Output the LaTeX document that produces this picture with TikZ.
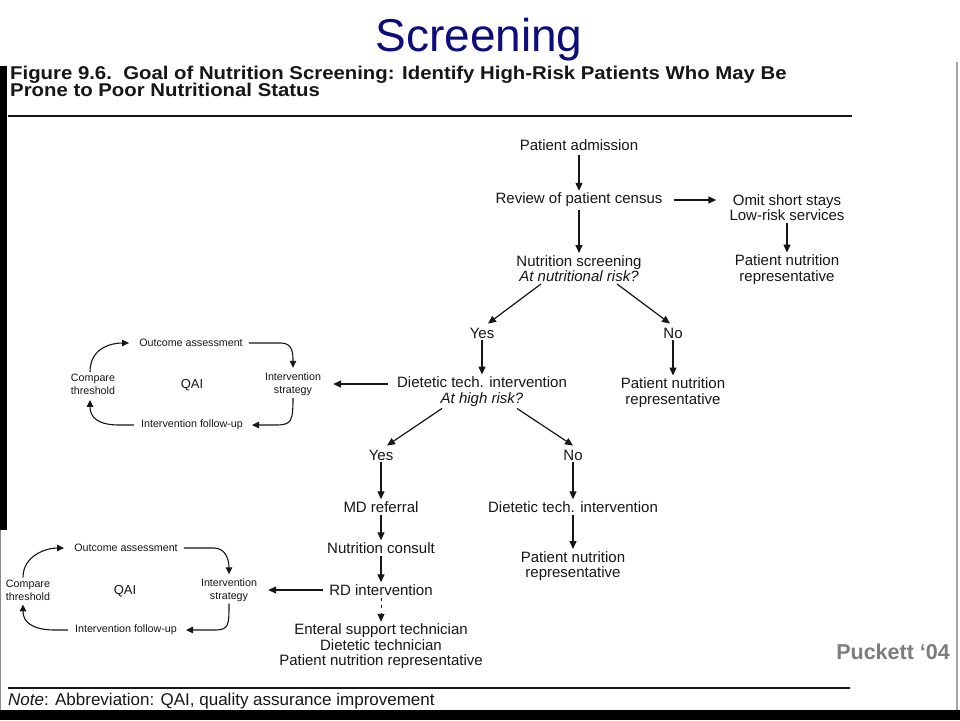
\documentclass[tikz,border=0pt]{standalone}
\usepackage{fontspec}
\setmainfont{Liberation Sans}
\usetikzlibrary{arrows.meta,calc}
\definecolor{navy}{RGB}{12,12,125}
\definecolor{pgray}{RGB}{125,125,125}
\definecolor{ink}{RGB}{22,22,22}
\tikzset{
 flow/.style={font=\fontsize{15}{15.5}\selectfont, align=center, inner sep=2pt, text=ink},
 smalltxt/.style={font=\fontsize{10.7}{13}\selectfont, align=center, inner sep=2pt, text=ink},
 qailab/.style={font=\fontsize{13}{13}\selectfont, inner sep=2pt, text=ink},
 arr/.style={draw=ink, line width=1.2pt, -{Triangle[length=8pt,width=7pt]}},
 cyc/.style={draw=ink, line width=1.1pt, -{Triangle[length=7pt,width=6.5pt]}},
 rulel/.style={draw=ink, line width=1.3pt},
}
\begin{document}
\begin{tikzpicture}[x=1pt,y=-1pt]
\path[use as bounding box, fill=white] (0,0) rectangle (960,720);

% title
\node[font=\fontsize{46}{46}\selectfont, text=navy, inner sep=0pt] (title) at (479,40) {Screening};

% heading
\node[anchor=base west, inner sep=0pt, text=ink] (head1) at (10,79) {\scalebox{1.1}[1]{\fontsize{18.5}{18.5}\selectfont\bfseries Figure 9.6.\ \ Goal of Nutrition Screening: Identify High-Risk Patients Who May Be}};
\node[anchor=base west, inner sep=0pt, text=ink] (head2) at (10,96) {\scalebox{1.1}[1]{\fontsize{18.5}{18.5}\selectfont\bfseries Prone to Poor Nutritional Status}};
\draw[rulel] (8,116) -- (852,116);

% main flow
\node[flow] (adm) at (579,145) {Patient admission};
\node[flow] (rev) at (579,200) {Review of patient census};
\node[flow] (omit) at (787,207.5) {Omit short stays\\Low-risk services};
\node[flow] (pnr1) at (787,269.5) {Patient nutrition\\representative};
\node[flow] (scr) at (579,268.5) {Nutrition screening\\\textit{At nutritional risk?}};
\node[flow] (yes1) at (482,333) {Yes};
\node[flow] (no1) at (673,333) {No};
\node[flow] (dt1) at (482,391.5) {Dietetic tech. intervention\\\textit{At high risk?}};
\node[flow] (pnr2) at (673,392.5) {Patient nutrition\\representative};
\node[flow] (yes2) at (381,455) {Yes};
\node[flow] (no2) at (573,455) {No};
\node[flow] (md) at (381,507) {MD referral};
\node[flow] (dt2) at (573,507) {Dietetic tech. intervention};
\node[flow] (nc) at (381,548) {Nutrition consult};
\node[flow] (pnr3) at (573,566) {Patient nutrition\\representative};
\node[flow] (rd) at (381,590) {RD intervention};
\node[flow] (ent) at (381,646.5) {Enteral support technician\\Dietetic technician\\Patient nutrition representative};

% QAI cycle 1
\node[smalltxt] (oa1) at (191,343) {Outcome assessment};
\node[smalltxt] (cmp1) at (93,384.5) {Compare\\threshold};
\node[qailab] (qai1) at (192,385) {QAI};
\node[smalltxt] (st1) at (293,384.5) {Intervention\\strategy};
\node[smalltxt] (fu1) at (192,425) {Intervention follow-up};

% QAI cycle 2
\node[smalltxt] (oa2) at (126,548) {Outcome assessment};
\node[smalltxt] (cmp2) at (28,590) {Compare\\threshold};
\node[qailab] (qai2) at (125,591) {QAI};
\node[smalltxt] (st2) at (229,590) {Intervention\\strategy};
\node[smalltxt] (fu2) at (126,630) {Intervention follow-up};

% flow arrows
\draw[arr] ($(adm.south)+(0,2)$) -- (rev.north);
\draw[arr] ($(rev.south)+(0,1)$) -- (scr.north);
\draw[arr] ($(rev.east)+(9,0)$) -- ($(omit.west |- rev.east)+(-11,0)$);
\draw[arr] (omit.south) -- (pnr1.north);
\draw[arr] ($(scr.south)+(-38,0)$) -- ($(yes1.north)+(6,-2)$);
\draw[arr] ($(scr.south)+(38,0)$) -- ($(no1.north)+(-3,-2)$);
\draw[arr] (yes1.south) -- (dt1.north);
\draw[arr] (no1.south) -- (pnr2.north);
\draw[arr] ($(dt1.west)+(-7,-7.5)$) -- ($(st1.east |- dt1.west)+(10,-7.5)$);
\draw[arr] ($(dt1.south)+(-40,0)$) -- ($(yes2.north)+(6,-2)$);
\draw[arr] ($(dt1.south)+(35,0)$) -- ($(no2.north)+(0,-2)$);
\draw[arr] (yes2.south) -- (md.north);
\draw[arr] (no2.south) -- (dt2.north);
\draw[arr] (md.south) -- (nc.north);
\draw[arr] (dt2.south) -- (pnr3.north);
\draw[arr] (nc.south) -- (rd.north);
\draw[arr, line width=1pt, dash pattern=on 3pt off 4.5pt] (rd.south) -- (ent.north);
\draw[arr] ($(rd.west)+(-4,0)$) -- ($(st2.east |- rd.west)+(9,0)$);

% cycle 1 arrows
\draw[cyc] ($(cmp1.north)+(-3,0)$) .. controls +(0,-24) and +(-18,0) .. ($(oa1.west)+(-8,0)$);
\draw[cyc] ($(oa1.east)+(4,0)$) -- ($(oa1.east)+(36,0)$) .. controls +(12,0) and +(0,-14) .. ($(st1.north)+(0,-3)$);
\draw[cyc] (st1.south) .. controls +(0,24) and +(16,0) .. ($(fu1.east)+(30,0)$) -- ($(fu1.east)+(7,0)$);
\draw[cyc] ($(fu1.west)+(-5,0)$) -- ($(fu1.west)+(-20,0)$) .. controls +(-20,0) and +(0,18) .. ($(cmp1.south)+(-3,3)$);

% cycle 2 arrows
\draw[cyc] ($(cmp2.north)+(-5,0)$) .. controls +(0,-22) and +(-18,0) .. ($(oa2.west)+(-8,0)$);
\draw[cyc] ($(oa2.east)+(4,0)$) -- ($(oa2.east)+(34,0)$) .. controls +(12,0) and +(0,-14) .. ($(st2.north)+(0,-2)$);
\draw[cyc] (st2.south) .. controls +(0,22) and +(15,0) .. ($(fu2.east)+(35,0)$) -- ($(fu2.east)+(7,0)$);
\draw[cyc] ($(fu2.west)+(-5,0)$) -- ($(fu2.west)+(-18,0)$) .. controls +(-22,0) and +(0,18) .. ($(cmp2.south)+(-5,2)$);

% bottom
\draw[rulel] (8,688) -- (850,688);
\node[anchor=base west, inner sep=0pt, text=ink, font=\fontsize{17}{17}\selectfont] (note) at (8,705) {\textit{Note}: Abbreviation: QAI, quality assurance improvement};
\node[anchor=base east, inner sep=0pt, text=pgray, font=\fontsize{21.5}{21.5}\selectfont\bfseries] (puck) at (950,659) {Puckett ‘04};

% scan frame
\fill[black] (0,66) rectangle (7,530);
\draw[black!45, line width=1.2pt] (0.6,530) -- (0.6,710);
\fill[black] (0,710) rectangle (960,720);
\draw[black!35, line width=1.5pt] (957,62) -- (957,710);
\end{tikzpicture}
\end{document}
